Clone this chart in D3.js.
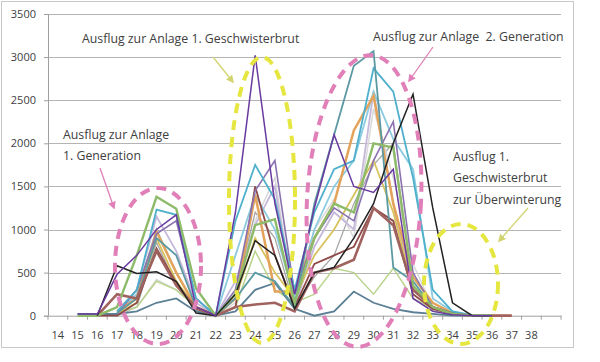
<!DOCTYPE html>
<html>
<head>
<meta charset="utf-8">
<script src="https://cdn.jsdelivr.net/npm/d3@7"></script>
<style>
  body { margin: 0; background: #fff; }
  text { font-family: "Open Sans", "Noto Sans", sans-serif; fill: #404040; }
</style>
</head>
<body>
<svg id="chart" width="600" height="362"></svg>
<script>
// weeks 14..37 (an empty slot 38/39 at the end like the original)
var weeks = d3.range(14, 40);
var yTicks = [0, 500, 1000, 1500, 2000, 2500, 3000, 3500];

// one array per series, values for weeks 14..37
var sGrey      = [null,20,20,0,100,850,350,60,0,250,1200,900,100,450,700,1300,1750,2000,350,60,10,0,0,0];
var sLightGrey = [null,null,null,20,100,420,300,100,0,150,1100,1600,150,1000,1350,900,2400,1600,600,100,20,0,0,0];
var sLightGreen= [null,null,null,30,100,400,300,100,0,100,750,300,150,250,550,500,250,550,200,80,10,0,0,null];
var sSlate     = [null,20,20,20,50,150,200,50,0,50,300,380,80,0,50,280,150,80,40,20,0,0,0,0];
var sLavender  = [null,null,null,40,300,1150,750,150,0,400,1050,1500,100,800,1200,1000,2600,1300,300,100,20,0,0,null];
var sGold      = [null,null,null,30,150,900,400,100,0,200,900,500,200,700,1000,1400,1800,1200,300,100,20,0,0,null];
var sLightBlue = [null,null,null,30,250,1000,500,100,0,700,1400,1000,200,1000,1500,1800,2600,2050,1700,200,50,10,0,null];
var sDarkRed   = [null,null,0,0,150,780,380,80,0,100,1500,700,100,600,700,800,1250,1100,250,80,20,0,0,0];
var sTan       = [null,null,null,50,200,980,500,100,0,200,1400,280,280,900,1300,2150,2550,1300,450,150,30,0,0,0];
var sPurple    = [null,null,null,20,300,950,1100,200,0,300,1450,1800,250,900,1250,1100,1800,2250,500,100,30,0,0,null];
var sTeal      = [null,null,null,50,300,1230,1170,200,0,1100,1750,1350,300,1200,1700,1800,2870,2600,1600,300,50,0,0,null];
var sGreyTeal  = [null,null,null,30,200,900,700,100,0,200,500,400,100,1300,2100,2900,3070,560,400,100,30,0,0,null];
var sRose      = [null,null,0,250,200,750,350,100,0,100,130,150,50,500,550,650,1250,1050,300,100,20,0,0,0];
var sOlive     = [null,0,0,100,700,1380,1240,320,0,250,1050,1120,150,900,1300,1200,2000,1950,350,100,20,0,0,null];
var sBlack     = [null,null,0,580,490,510,400,30,0,250,870,700,80,500,560,900,1300,2000,2570,1250,150,0,0,null];
var sViolet    = [null,20,20,480,700,1000,1170,100,0,1200,3020,1300,250,1250,2100,1500,1430,1700,200,50,10,0,0,null];

var series = [
  {values: sGrey,       color: "#a6a6a6", width: 1.3},
  {values: sLightGrey,  color: "#d9d9d9", width: 1.5},
  {values: sLightGreen, color: "#b9d48c", width: 1.5},
  {values: sSlate,      color: "#5b7f95", width: 1.8},
  {values: sLavender,   color: "#c5b8da", width: 1.8},
  {values: sGold,       color: "#d8c25e", width: 1.8},
  {values: sLightBlue,  color: "#8ccbe0", width: 1.8},
  {values: sDarkRed,    color: "#8e4a48", width: 1.8},
  {values: sTan,        color: "#e3a35a", width: 2.5},
  {values: sPurple,     color: "#8a72b0", width: 1.6},
  {values: sTeal,       color: "#4fb0cc", width: 1.8},
  {values: sGreyTeal,   color: "#5c9aa3", width: 1.8},
  {values: sRose,       color: "#a0625e", width: 2.6},
  {values: sOlive,      color: "#8dbb6a", width: 2.4},
  {values: sBlack,      color: "#222222", width: 1.5},
  {values: sViolet,     color: "#6a3aa0", width: 1.5}
];

var margin = {top: 14, left: 48, right: 39, bottom: 46},
    width  = 600 - margin.left - margin.right,
    height = 362 - margin.top - margin.bottom - 0.3;

var svg = d3.select("#chart");

// chart frame
svg.append("rect")
  .attr("x", 1.5).attr("y", 1.5)
  .attr("width", 572).attr("height", 346)
  .attr("fill", "#fff")
  .attr("stroke", "#c8c8c8");

var x = d3.scaleBand().domain(weeks).range([0, width]).padding(0),
    y = d3.scaleLinear().domain([0, 3500]).range([height, 0]);

var g = svg.append("g").attr("transform", "translate(" + margin.left + "," + margin.top + ")");

// gridlines
g.selectAll(".horizontalGrid").data(yTicks.slice(1)).enter()
  .append("line")
  .attr("class", "horizontalGrid")
  .attr("x1", 0).attr("x2", width)
  .attr("y1", function(d) { return Math.round(y(d)) + 0.5; })
  .attr("y2", function(d) { return Math.round(y(d)) + 0.5; })
  .attr("stroke", "#b4b4b4");

// y axis
var yAxis = g.append("g")
  .attr("class", "axis axis--y")
  .call(d3.axisLeft(y).tickValues(yTicks).tickFormat(d3.format("d")).tickSize(4).tickPadding(8));
yAxis.select(".domain").attr("stroke", "#a0a0a0");
yAxis.selectAll(".tick line").attr("stroke", "#a0a0a0");
yAxis.selectAll("text").attr("font-size", 11).style("fill", "#404040")
  .style("font-family", "'Open Sans', sans-serif");

// x axis, ticks between categories
var xAxis = g.append("g")
  .attr("class", "axis axis--x")
  .attr("transform", "translate(0," + height + ")")
  .call(d3.axisBottom(x).tickSize(0).tickPadding(16).tickFormat(function(d) { return d <= 38 ? d : ""; }));
xAxis.select(".domain").attr("stroke", "#a0a0a0");
xAxis.selectAll("text").attr("font-size", 11).style("fill", "#404040")
  .style("font-family", "'Open Sans', sans-serif");
xAxis.selectAll(".between").data(weeks.concat([40])).enter()
  .append("line")
  .attr("x1", function(d, i) { return i * x.bandwidth(); })
  .attr("x2", function(d, i) { return i * x.bandwidth(); })
  .attr("y1", 0).attr("y2", 4)
  .attr("stroke", "#a0a0a0");

// series lines
var line = d3.line()
  .defined(function(d) { return d != null; })
  .x(function(d, i) { return x(weeks[i]) + x.bandwidth() / 2; })
  .y(function(d) { return y(d); });

g.selectAll(".liness").data(series).enter()
  .append("path")
  .attr("class", "liness")
  .attr("fill", "none")
  .attr("stroke", function(d) { return d.color; })
  .attr("stroke-width", function(d) { return d.width; })
  .attr("stroke-linejoin", "miter")
  .attr("d", function(d) { return line(d.values); });

// annotations (ellipses, arrows, notes)
var pink = "#e07fb8", yellow = "#e6e640", yellowArrow = "#d2d470";

var defs = svg.append("defs");
[["headPink", pink], ["headYellow", yellowArrow]].forEach(function(m) {
  defs.append("marker")
    .attr("id", m[0])
    .attr("viewBox", "0 0 10 10")
    .attr("refX", 8).attr("refY", 5)
    .attr("markerWidth", 6).attr("markerHeight", 6)
    .attr("orient", "auto")
    .append("path")
    .attr("d", "M0,0L10,5L0,10z")
    .attr("fill", m[1]);
});

var ellipses = [
  {cx: 158, cy: 266, rx: 43, ry: 78, color: pink, rot: 0},
  {cx: 262, cy: 200, rx: 33, ry: 143, color: yellow, rot: 0},
  {cx: 364, cy: 201, rx: 57, ry: 146, color: pink, rot: 3},
  {cx: 461, cy: 284, rx: 37, ry: 60, color: yellow, rot: 0}
];
svg.selectAll(".callout").data(ellipses).enter()
  .append("ellipse")
  .attr("class", "callout")
  .attr("cx", function(d) { return d.cx; })
  .attr("cy", function(d) { return d.cy; })
  .attr("rx", function(d) { return d.rx; })
  .attr("ry", function(d) { return d.ry; })
  .attr("transform", function(d) { return "rotate(" + d.rot + "," + d.cx + "," + d.cy + ")"; })
  .attr("fill", "none")
  .attr("stroke", function(d) { return d.color; })
  .attr("stroke-width", 4)
  .attr("stroke-dasharray", "10,7");

var arrows = [
  {x1: 100, y1: 168, x2: 114, y2: 208, color: pink, head: "headPink"},
  {x1: 213, y1: 57, x2: 233, y2: 82, color: yellowArrow, head: "headYellow"},
  {x1: 433, y1: 47, x2: 409, y2: 81, color: pink, head: "headPink"},
  {x1: 528, y1: 208, x2: 499, y2: 241, color: yellowArrow, head: "headYellow"}
];
svg.selectAll(".arrow").data(arrows).enter()
  .append("line")
  .attr("class", "arrow")
  .attr("x1", function(d) { return d.x1; }).attr("y1", function(d) { return d.y1; })
  .attr("x2", function(d) { return d.x2; }).attr("y2", function(d) { return d.y2; })
  .attr("stroke", function(d) { return d.color; })
  .attr("stroke-width", 1.3)
  .attr("marker-end", function(d) { return "url(#" + d.head + ")"; });

var notes = [
  {x: 82,  y: 43,  t: "Ausflug zur Anlage 1. Geschwisterbrut"},
  {x: 373, y: 41,  t: "Ausflug zur Anlage  2. Generation"},
  {x: 63,  y: 139, t: "Ausflug zur Anlage"},
  {x: 63,  y: 160, t: "1. Generation"},
  {x: 453, y: 161, t: "Ausflug 1."},
  {x: 453, y: 182, t: "Geschwisterbrut"},
  {x: 453, y: 204, t: "zur Überwinterung"}
];
svg.selectAll(".note").data(notes).enter()
  .append("text")
  .attr("class", "note")
  .attr("x", function(d) { return d.x; })
  .attr("y", function(d) { return d.y; })
  .attr("font-size", 12.3)
  .style("white-space", "pre")
  .attr("xml:space", "preserve")
  .text(function(d) { return d.t; });
</script>
</body>
</html>
